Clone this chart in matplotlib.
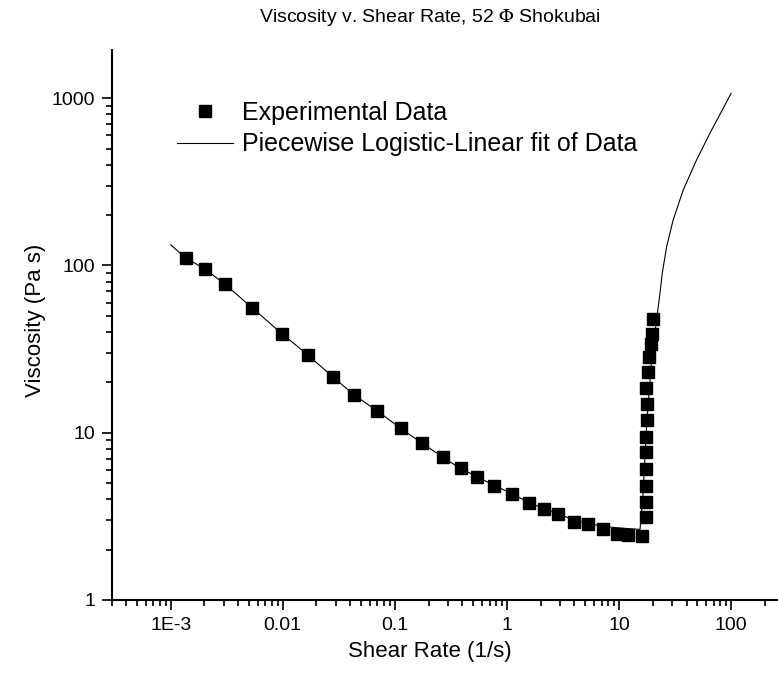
import numpy as np
import matplotlib
matplotlib.use("Agg")
import matplotlib.pyplot as plt

plt.rcParams['font.family'] = ['Liberation Sans', 'DejaVu Sans']
plt.rcParams['mathtext.fontset'] = 'stix'

# --- DATA ---
shear_rate = [1.36e-3, 2.04e-3, 3.07e-3, 5.31e-3, 9.78e-3, 0.0169, 0.0279, 0.0434,
              0.0697, 0.113, 0.173, 0.267, 0.386, 0.545, 0.770, 1.11, 1.57, 2.15,
              2.87, 3.94, 5.31, 7.14, 9.58, 12.0, 16.0,
              17.4, 17.4, 17.4, 17.4, 17.4, 17.4, 17.8, 17.7, 17.4, 18.1, 18.6,
              19.4, 19.8, 20.3]
viscosity = [110.4, 95.3, 77.2, 55.7, 39.1, 29.0, 21.6, 16.7,
             13.5, 10.6, 8.68, 7.15, 6.12, 5.43, 4.81, 4.30, 3.79, 3.49,
             3.26, 2.94, 2.83, 2.64, 2.49, 2.44, 2.41,
             3.12, 3.85, 4.81, 6.04, 7.68, 9.39, 11.9, 14.75, 18.4, 23.0, 28.3,
             34.0, 39.0, 47.8]

# fitted curve
fit_x = [1.0e-3, 1.36e-3, 2.04e-3, 3.07e-3, 5.31e-3, 9.78e-3, 0.0169, 0.0279,
         0.0434, 0.0697, 0.113, 0.173, 0.267, 0.386, 0.545, 0.77, 1.11, 1.57,
         2.15, 2.87, 3.94, 5.31, 7.14, 9.58, 12.0, 15.4,
         16.4, 17.6, 19.5, 21.6, 23.2, 24.3, 26.6, 30.4, 37.4, 49.2, 64.7, 85.0, 100]
fit_y = [133, 111, 95, 77, 56, 39.2, 29.0, 21.6,
         16.8, 13.5, 10.6, 8.7, 7.15, 6.1, 5.45, 4.83, 4.32, 3.82,
         3.5, 3.28, 3.0, 2.86, 2.76, 2.7, 2.67, 2.64,
         4.34, 10.9, 27.2, 47.2, 68.2, 89.8, 129.6, 187, 283, 428, 618, 871, 1071]

x_ticks = [1e-3, 1e-2, 1e-1, 1, 10, 100]
x_labels = ["1E-3", "0.01", "0.1", "1", "10", "100"]
y_ticks = [1, 10, 100, 1000]
y_labels = ["1", "10", "100", "1000"]

# --- PLOT ---
fig = plt.figure(figsize=(7.78, 6.77), dpi=100)
ax = fig.add_axes([0.144, 0.1139, 0.856, 0.8123])

ax.plot(shear_rate, viscosity, 's', color='black', markersize=8,
        label="Experimental Data")
ax.plot(fit_x, fit_y, '-', color='black', linewidth=0.8,
        label="Piecewise Logistic-Linear fit of Data")

ax.set_xscale('log')
ax.set_yscale('log')
ax.set_xlim(3e-4, 262)
ax.set_ylim(1, 1945)

ax.set_xticks(x_ticks)
ax.set_xticklabels(x_labels)
ax.set_yticks(y_ticks)
ax.set_yticklabels(y_labels)
ax.xaxis.set_minor_locator(matplotlib.ticker.LogLocator(base=10, subs=np.arange(2, 10)))
ax.yaxis.set_minor_locator(matplotlib.ticker.LogLocator(base=10, subs=np.arange(2, 10)))
ax.xaxis.set_minor_formatter(matplotlib.ticker.NullFormatter())
ax.yaxis.set_minor_formatter(matplotlib.ticker.NullFormatter())

ax.spines['top'].set_visible(False)
ax.spines['right'].set_visible(False)
ax.spines['left'].set_linewidth(1.5)
ax.spines['bottom'].set_linewidth(1.5)
ax.tick_params(which='major', direction='out', length=7, width=1.2,
               labelsize=14, pad=5)
ax.tick_params(which='minor', direction='out', length=4, width=1.2)

fig.text(0.553, 1 - 18 / 677, "Viscosity v. Shear Rate, 52 $\\Phi$ Shokubai",
         ha='center', va='center', fontsize=14)
fig.text(0.553, 1 - 652 / 677, "Shear Rate (1/s)", ha='center', va='center',
         fontsize=16)
fig.text(36 / 778, 1 - 320 / 677, "Viscosity (Pa s)", ha='center', va='center',
         rotation=90, fontsize=16)

ax.legend(loc='upper left', bbox_to_anchor=(177 / 778, 1 - 101 / 677),
          bbox_transform=fig.transFigure, frameon=False, fontsize=18,
          numpoints=1, handlelength=2.24, handletextpad=0.34,
          labelspacing=0.3, borderpad=0, borderaxespad=0)

fig.savefig("out.png", dpi=100)
